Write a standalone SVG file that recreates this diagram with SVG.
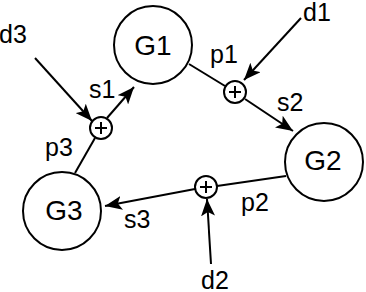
<svg xmlns="http://www.w3.org/2000/svg" width="366" height="292" viewBox="0 0 366 292">
<style>
.node{fill:#fff;stroke:#000;stroke-width:2}
.lbl{font-family:"Liberation Sans",Arial,sans-serif;font-size:25px;fill:#000}
.big{font-family:"Liberation Sans",Arial,sans-serif;font-size:28px;fill:#000;text-anchor:middle}
.ln{stroke:#000;stroke-width:2;fill:none}
.arr{marker-end:url(#ah)}
</style>
<defs>
<marker id="ah" markerUnits="userSpaceOnUse" markerWidth="18" markerHeight="14" refX="17" refY="7" orient="auto">
<path d="M0,0 L17,7 L0,14 L4,7 z" fill="#000"/>
</marker>
</defs>
<rect width="366" height="292" fill="#fff"/>
<g id="connectors">
<line class="ln arr" x1="35" y1="58" x2="92" y2="121"/>
<line class="ln arr" x1="107" y1="118" x2="134" y2="87"/>
<line class="ln" x1="189" y1="64" x2="225" y2="86"/>
<line class="ln arr" x1="301" y1="18" x2="244" y2="80"/>
<line class="ln arr" x1="245" y1="99" x2="293" y2="131"/>
<line class="ln" x1="286" y1="176" x2="217" y2="186"/>
<line class="ln arr" x1="211" y1="264" x2="207" y2="199"/>
<line class="ln arr" x1="195" y1="189" x2="105" y2="206"/>
<line class="ln" x1="75" y1="173" x2="95" y2="138"/>
</g>
<g id="G1"><circle class="node" cx="153" cy="45" r="39"/><text class="big" x="153" y="55">G1</text></g>
<g id="G2"><circle class="node" cx="324" cy="162" r="39"/><text class="big" x="323" y="170">G2</text></g>
<g id="G3"><circle class="node" cx="62" cy="211" r="39"/><text class="big" x="64" y="220">G3</text></g>
<g id="sum1"><circle class="node" cx="101" cy="128" r="11"/><path class="ln" d="M95,128 H107 M101,122 V134"/></g>
<g id="sum2"><circle class="node" cx="235" cy="92" r="11"/><path class="ln" d="M229,92 H241 M235,86 V98"/></g>
<g id="sum3"><circle class="node" cx="206" cy="187" r="11"/><path class="ln" d="M200,187 H212 M206,181 V193"/></g>
<g id="labels">
<text class="lbl" x="-1" y="43">d3</text>
<text class="lbl" x="89" y="98">s1</text>
<text class="lbl" x="45" y="156">p3</text>
<text class="lbl" x="210" y="63">p1</text>
<text class="lbl" x="303" y="21">d1</text>
<text class="lbl" x="277" y="111">s2</text>
<text class="lbl" x="124" y="228">s3</text>
<text class="lbl" x="241" y="211">p2</text>
<text class="lbl" x="201" y="289">d2</text>
</g>
</svg>
